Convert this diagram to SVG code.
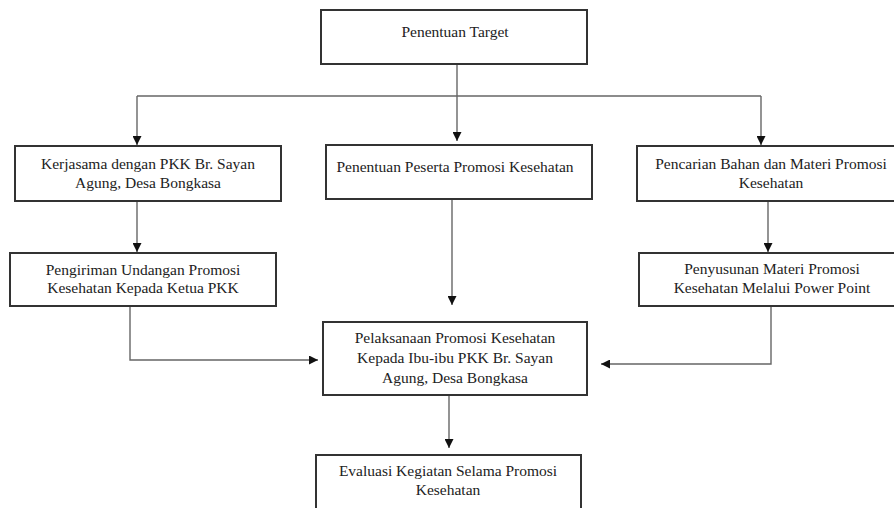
<svg xmlns="http://www.w3.org/2000/svg" width="894" height="508" viewBox="0 0 894 508">
<style>
.box{fill:#fff;stroke:#333;stroke-width:2}
.t{font-family:"Liberation Serif","Times New Roman",serif;font-size:15.5px;fill:#222;text-anchor:middle}
.c{fill:none;stroke:#666;stroke-width:1.4}
</style>
<defs>
<marker id="ah" markerUnits="userSpaceOnUse" markerWidth="9" markerHeight="9" viewBox="0 0 10 10" refX="10" refY="5" orient="auto">
<path d="M0,0 L10,5 L0,10 z" fill="#111"/>
</marker>
</defs>
<rect width="894" height="508" fill="#fff"/>
<g id="connectors">
<path class="c" d="M457,64 V141" marker-end="url(#ah)"/>
<path class="c" d="M137,96 H761"/>
<path class="c" d="M137,96 V145" marker-end="url(#ah)"/>
<path class="c" d="M761,96 V145" marker-end="url(#ah)"/>
<path class="c" d="M137,201 V252" marker-end="url(#ah)"/>
<path class="c" d="M452,199 V305" marker-end="url(#ah)"/>
<path class="c" d="M768,201 V252" marker-end="url(#ah)"/>
<path class="c" d="M130,306 V360 H318" marker-end="url(#ah)"/>
<path class="c" d="M771,306 V364 H601" marker-end="url(#ah)"/>
<path class="c" d="M449,395 V448" marker-end="url(#ah)"/>
</g>
<g id="n-target">
<rect class="box" x="321" y="10" width="266" height="54"/>
<text class="t" x="455" y="37">Penentuan Target</text>
</g>
<g id="n-kerjasama">
<rect class="box" x="15" y="146" width="266" height="55"/>
<text class="t" x="148" y="169">Kerjasama dengan PKK Br. Sayan</text>
<text class="t" x="148" y="188">Agung, Desa Bongkasa</text>
</g>
<g id="n-peserta">
<rect class="box" x="326" y="145" width="266" height="54"/>
<text class="t" x="455" y="172">Penentuan Peserta Promosi Kesehatan</text>
</g>
<g id="n-pencarian">
<rect class="box" x="637" y="146" width="268" height="55"/>
<text class="t" x="771" y="169">Pencarian Bahan dan Materi Promosi</text>
<text class="t" x="771" y="188">Kesehatan</text>
</g>
<g id="n-pengiriman">
<rect class="box" x="10" y="253" width="266" height="53"/>
<text class="t" x="143" y="275">Pengiriman Undangan Promosi</text>
<text class="t" x="143" y="293">Kesehatan Kepada Ketua PKK</text>
</g>
<g id="n-penyusunan">
<rect class="box" x="639" y="253" width="266" height="53"/>
<text class="t" x="772" y="274">Penyusunan Materi Promosi</text>
<text class="t" x="772" y="293">Kesehatan Melalui Power Point</text>
</g>
<g id="n-pelaksanaan">
<rect class="box" x="323" y="322" width="264" height="73"/>
<text class="t" x="455" y="343">Pelaksanaan Promosi Kesehatan</text>
<text class="t" x="455" y="363">Kepada Ibu-ibu PKK Br. Sayan</text>
<text class="t" x="455" y="383">Agung, Desa Bongkasa</text>
</g>
<g id="n-evaluasi">
<rect class="box" x="316" y="455" width="265" height="60"/>
<text class="t" x="448" y="476">Evaluasi Kegiatan Selama Promosi</text>
<text class="t" x="448" y="495">Kesehatan</text>
</g>
</svg>
